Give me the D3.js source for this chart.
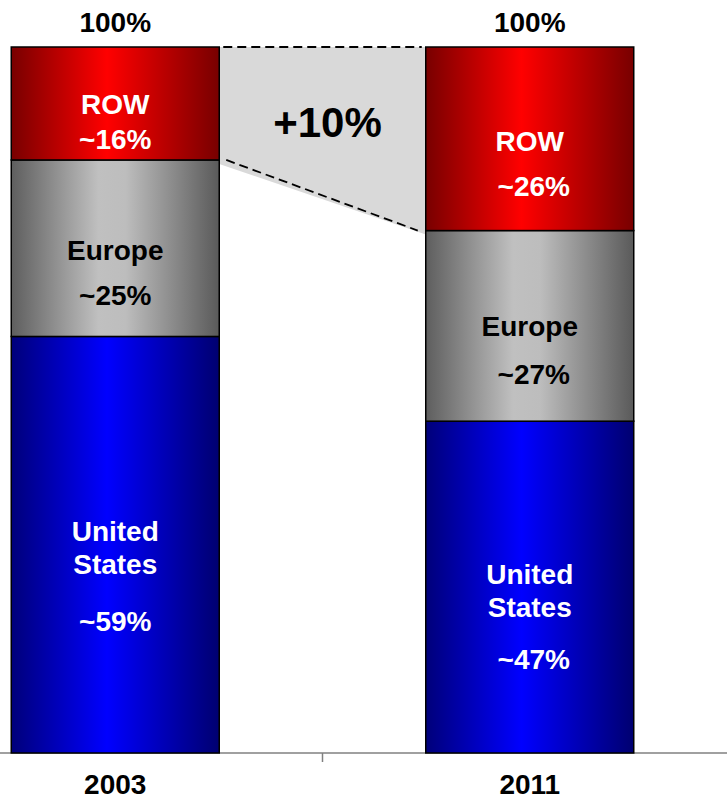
<!DOCTYPE html>
<html>
<head>
<meta charset="utf-8">
<script src="https://cdn.jsdelivr.net/npm/d3@7"></script>
<style>
  html, body { margin: 0; padding: 0; background: #fff; }
  svg { display: block; font-family: "Liberation Sans", Arial, sans-serif; }
</style>
</head>
<body>
<svg id="chart" width="727" height="800"></svg>
<script>
// Market share by region (%), stacked bottom to top
const years = ["2003", "2011"];
const regions = ["United States", "Europe", "ROW"];
const usShare = [59, 47];
const europeShare = [25, 27];
const rowShare = [16, 26];
const totalLabels = ["100%", "100%"];
const changeLabel = "+10%";
const regionNames = [["United", "States"], ["Europe"], ["ROW"]];

const shares = [usShare, europeShare, rowShare];

// Baseline offsets (px) of each label line, measured from the segment's middle
const lineOffsets = {
  "2003": [[-4, 29, 86], [12, 57], [11, 46]],
  "2011": [[-3, 30, 82], [10, 58], [12.5, 57.5]]
};
const pctShift = { "2003": 0, "2011": 4 };

const svg = d3.select("#chart");
const W = 727;

const x = d3.scaleBand().domain(years).range([-92, 737]).padding(0);
const barW = 208;
const y = d3.scaleLinear().domain([0, 100]).range([753, 47]);

// Gradients: dark edges, bright centre
const defs = svg.append("defs");
const gradSpec = [
  { id: "g-us", stops: [[0, "#00007a"], [0.46, "#0000ff"], [1, "#000070"]] },
  { id: "g-eu", stops: [[0, "#5e5e5e"], [0.42, "#c0c0c0"], [0.55, "#bdbdbd"], [1, "#5a5a5a"]] },
  { id: "g-row", stops: [[0, "#780000"], [0.46, "#ff0000"], [1, "#780000"]] }
];
gradSpec.forEach(g => {
  const lg = defs.append("linearGradient").attr("id", g.id)
    .attr("x1", "0%").attr("x2", "100%").attr("y1", "0%").attr("y2", "0%");
  g.stops.forEach(s => lg.append("stop").attr("offset", s[0]).attr("stop-color", s[1]));
});
const fills = ["url(#g-us)", "url(#g-eu)", "url(#g-row)"];
const textColors = ["#ffffff", "#000000", "#ffffff"];

// Stack the data
const rows = years.map((yr, i) => {
  const o = { year: yr };
  regions.forEach((r, k) => o[r] = shares[k][i]);
  return o;
});
const series = d3.stack().keys(regions)(rows);

const barX = yr => x(yr) + (x.bandwidth() - barW) / 2;
const barCx = yr => x(yr) + x.bandwidth() / 2;

// Shaded growth wedge between the two ROW segments
const rowSeries = series[2];
const xL = barX(years[0]) + barW;
const xR = barX(years[1]);
const topL = y(rowSeries[0][1]), topR = y(rowSeries[1][1]);
const botL = y(rowSeries[0][0]), botR = y(rowSeries[1][0]);
svg.append("path")
  .attr("d", `M${xL},${topL}L${xR},${topR}L${xR},${botR + 4}L${xL},${botL + 4}Z`)
  .attr("fill", "#d9d9d9");
svg.append("line")
  .attr("x1", xL + 4).attr("y1", topL).attr("x2", xR - 4).attr("y2", topR)
  .attr("stroke", "#000").attr("stroke-width", 1.8).attr("stroke-dasharray", "9,5");
svg.append("line")
  .attr("x1", xL + 7).attr("y1", botL).attr("x2", xR - 8).attr("y2", botR)
  .attr("stroke", "#000").attr("stroke-width", 1.8).attr("stroke-dasharray", "9,5");
svg.append("text")
  .attr("x", (xL + xR) / 2 + 5).attr("y", 137)
  .attr("text-anchor", "middle").attr("font-size", 42).attr("font-weight", "bold")
  .attr("fill", "#000").text(changeLabel);

// Axis
svg.append("line")
  .attr("x1", 0).attr("x2", W).attr("y1", y(0)).attr("y2", y(0))
  .attr("stroke", "#808080").attr("stroke-width", 1.5);
svg.append("line")
  .attr("x1", x(years[1])).attr("x2", x(years[1]))
  .attr("y1", y(0)).attr("y2", y(0) + 9)
  .attr("stroke", "#808080").attr("stroke-width", 1.5);

// Bars
series.forEach((s, k) => {
  svg.append("g").selectAll("rect").data(s).join("rect")
    .attr("x", d => barX(d.data.year))
    .attr("y", d => y(d[1]))
    .attr("width", barW)
    .attr("height", d => y(d[0]) - y(d[1]))
    .attr("fill", fills[k])
    .attr("stroke", "#000").attr("stroke-width", 1.5);
});

// Segment labels
series.forEach((s, k) => {
  s.forEach(d => {
    const yr = d.data.year;
    const mid = (y(d[0]) + y(d[1])) / 2;
    const lines = regionNames[k].concat(["~" + (d[1] - d[0]) + "%"]);
    const offs = lineOffsets[yr][k];
    lines.forEach((t, j) => {
      const isPct = j === lines.length - 1;
      svg.append("text")
        .attr("x", barCx(yr) + (isPct ? pctShift[yr] : 0))
        .attr("y", mid + offs[j])
        .attr("text-anchor", "middle")
        .attr("font-size", 28).attr("font-weight", "bold")
        .attr("fill", textColors[k])
        .text(t);
    });
  });
});

// Totals above bars
years.forEach((yr, i) => {
  svg.append("text")
    .attr("x", barCx(yr)).attr("y", 32)
    .attr("text-anchor", "middle").attr("font-size", 28).attr("font-weight", "bold")
    .text(totalLabels[i]);
});

// Category labels
years.forEach(yr => {
  svg.append("text")
    .attr("x", barCx(yr)).attr("y", 794)
    .attr("text-anchor", "middle").attr("font-size", 28).attr("font-weight", "bold")
    .text(yr);
});
</script>
</body>
</html>
